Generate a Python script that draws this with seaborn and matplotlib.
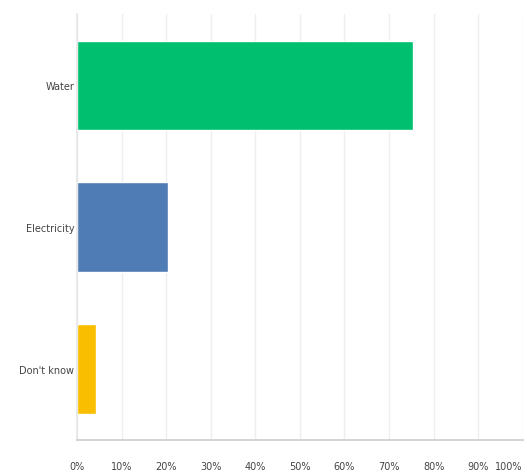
import matplotlib
matplotlib.use("Agg")
import matplotlib.pyplot as plt
import seaborn as sns
import pandas as pd

# survey answers and share of respondents (%)
answers = ["Water", "Electricity", "Don't know"]
shares = [75.3, 20.4, 4.3]
bar_colors = ["#00BF6F", "#507CB6", "#F9BE00"]
tick_vals = [0, 10, 20, 30, 40, 50, 60, 70, 80, 90, 100]
tick_labels = [f"{v}%" for v in tick_vals]

df = pd.DataFrame({"answer": answers, "share": shares})

sns.set_theme(style="white")
plt.rcParams["font.family"] = ["DejaVu Sans Condensed", "Liberation Sans Narrow", "DejaVu Sans"]

fig = plt.figure(figsize=(5.27, 4.77), dpi=100)
ax = fig.add_axes([0.146, 0.076, 0.846, 0.892])

sns.barplot(data=df, x="share", y="answer", hue="answer", palette=bar_colors,
            legend=False, width=0.63, saturation=1, ax=ax)

ax.set_xlim(0, 100)
ax.set_xticks(tick_vals)
ax.set_xticklabels(tick_labels, fontsize=7, color="#444444")
ax.tick_params(axis="x", length=0, pad=15)
ax.tick_params(axis="y", length=0, pad=2, labelsize=7, labelcolor="#444444")
labs = ax.get_xticklabels()
labs[-1].set_horizontalalignment("right")

ax.grid(axis="x", color="#eeeeee", linewidth=1)
ax.set_axisbelow(True)
for side in ["top", "right"]:
    ax.spines[side].set_visible(False)
ax.spines["left"].set_color("#e6e6e6")
ax.spines["bottom"].set_color("#cfcfcf")
ax.set_xlabel("")
ax.set_ylabel("")

fig.savefig("out.png", dpi=100)
